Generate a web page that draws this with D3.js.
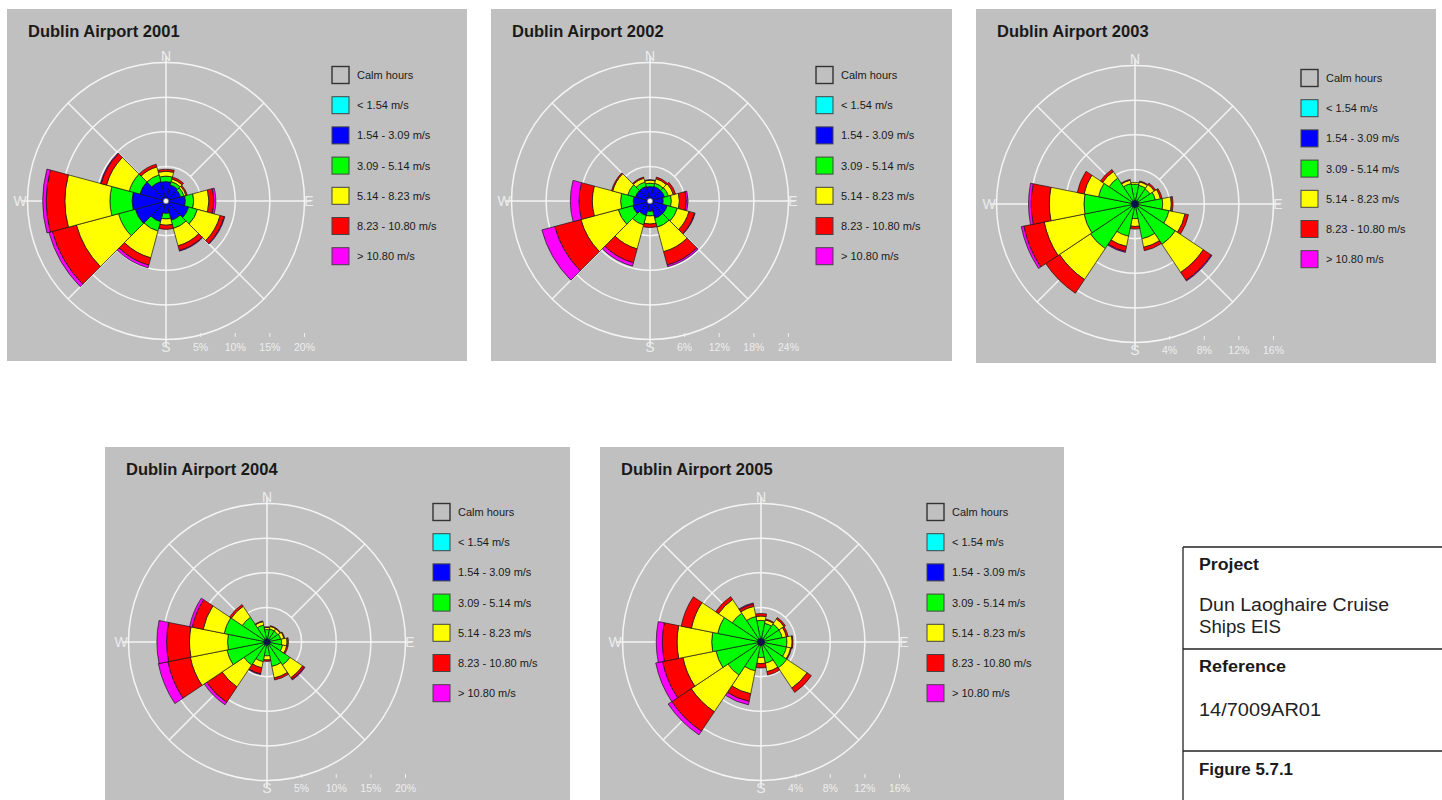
<!DOCTYPE html>
<html><head><meta charset="utf-8">
<script src="https://cdn.jsdelivr.net/npm/d3@7/dist/d3.min.js"></script>
<style>
body{margin:0;background:#fff;}
svg{display:block;font-family:"Liberation Sans",Arial,sans-serif;}
</style>
</head><body>
<svg id="chart" width="1442" height="800"></svg>
<script>
// ---------------- DATA ----------------
const speedClasses = ["Calm hours", "< 1.54 m/s", "1.54 - 3.09 m/s", "3.09 - 5.14 m/s", "5.14 - 8.23 m/s", "8.23 - 10.80 m/s", "> 10.80 m/s"];
const compassLabels = ["N", "E", "S", "W"];
const years = [2001, 2002, 2003, 2004, 2005];
const titles = ["Dublin Airport 2001", "Dublin Airport 2002", "Dublin Airport 2003", "Dublin Airport 2004", "Dublin Airport 2005"];

// sector bearings (degrees)
const dirs12 = [0, 30, 60, 90, 120, 150, 180, 210, 240, 270, 300, 330];
const dirs16 = [0, 22.5, 45, 67.5, 90, 112.5, 135, 157.5, 180, 202.5, 225, 247.5, 270, 292.5, 315, 337.5];

// ring tick values (%)
const ticks2001 = [5, 10, 15, 20];
const ticks2002 = [6, 12, 18, 24];
const ticks2003 = [4, 8, 12, 16];
const ticks2004 = [5, 10, 15, 20];
const ticks2005 = [4, 8, 12, 16];

// frequency (%) per direction: [<1.54, 1.54-3.09, 3.09-5.14, 5.14-8.23, 8.23-10.80, >10.80]
const freq2001 = [
  [0.3, 2.5, 0.8, 0.7, 0.3, 0.0], // N
  [0.3, 2.1, 0.5, 0.4, 0.3, 0.0], // 30
  [0.3, 1.9, 0.5, 0.3, 0.2, 0.0], // 60
  [0.3, 2.5, 1.2, 2.2, 0.7, 0.3], // E
  [0.3, 3.1, 1.3, 3.4, 0.6, 0.1], // 120
  [0.3, 2.6, 1.2, 2.6, 0.7, 0.1], // 150
  [0.3, 1.5, 0.8, 0.9, 0.6, 0.0], // S
  [0.3, 2.8, 1.4, 4.0, 1.1, 0.4], // 210
  [0.3, 4.3, 2.5, 6.3, 3.6, 0.5], // 240
  [0.3, 4.6, 3.2, 6.5, 2.7, 0.5], // W
  [0.3, 3.6, 1.6, 3.4, 0.8, 0.1], // 300
  [0.3, 2.6, 1.0, 1.2, 0.4, 0.0]  // 330
];
const freq2002 = [
  [0.3, 2.2, 0.6, 0.5, 0.1, 0.0],
  [0.3, 2.3, 0.6, 0.8, 0.3, 0.0],
  [0.3, 2.3, 0.7, 0.9, 0.4, 0.0],
  [0.3, 2.0, 1.4, 1.4, 1.2, 0.3],
  [0.3, 2.8, 1.8, 2.1, 1.0, 0.1],
  [0.3, 2.8, 1.6, 4.4, 2.4, 0.3],
  [0.3, 1.5, 0.8, 1.4, 0.6, 0.0],
  [0.3, 2.3, 1.7, 4.3, 2.5, 0.6],
  [0.3, 2.8, 2.6, 6.7, 4.7, 2.3],
  [0.3, 2.6, 2.2, 4.9, 2.3, 1.5],
  [0.3, 2.3, 1.4, 2.7, 0.2, 0.0],
  [0.3, 2.3, 0.8, 0.7, 0.2, 0.0]
];
const freq2003 = [
  [0.1, 0.3, 1.9, 0.2, 0.0, 0.0], // N
  [0.1, 0.3, 1.8, 0.4, 0.1, 0.0], // NNE
  [0.1, 0.3, 1.7, 0.6, 0.2, 0.0], // NE
  [0.1, 0.3, 2.0, 0.6, 0.2, 0.0], // ENE
  [0.1, 0.3, 2.8, 1.0, 0.2, 0.0], // E
  [0.1, 0.3, 3.6, 1.9, 0.4, 0.0], // ESE
  [0.1, 0.3, 5.2, 3.9, 1.1, 0.1], // SE
  [0.1, 0.3, 3.7, 1.0, 0.4, 0.0], // SSE
  [0.1, 0.3, 1.3, 0.9, 0.3, 0.0], // S
  [0.1, 0.3, 3.4, 1.2, 0.6, 0.1], // SSW
  [0.1, 0.3, 5.8, 4.3, 1.9, 0.0], // SW
  [0.1, 0.3, 5.6, 4.7, 2.4, 0.3], // WSW
  [0.1, 0.3, 5.5, 4.0, 2.1, 0.3], // W
  [0.1, 0.3, 3.9, 1.7, 0.8, 0.0], // WNW
  [0.1, 0.3, 3.2, 0.9, 0.3, 0.0], // NW
  [0.1, 0.3, 2.0, 0.4, 0.1, 0.0]  // NNW
];
const freq2004 = [
  [0.1, 0.2, 1.5, 0.3, 0.1, 0.0],
  [0.1, 0.2, 1.6, 0.4, 0.1, 0.0],
  [0.1, 0.2, 1.6, 0.4, 0.1, 0.0],
  [0.1, 0.2, 1.7, 0.5, 0.1, 0.0],
  [0.1, 0.2, 1.8, 0.8, 0.2, 0.0],
  [0.1, 0.2, 2.0, 0.6, 0.2, 0.0],
  [0.1, 0.2, 3.7, 2.2, 0.3, 0.1],
  [0.1, 0.2, 3.3, 1.7, 0.3, 0.0],
  [0.1, 0.2, 1.7, 0.6, 0.2, 0.0],
  [0.1, 0.2, 2.6, 0.9, 0.9, 0.1],
  [0.1, 0.2, 3.7, 3.8, 2.7, 0.4],
  [0.1, 0.2, 5.6, 5.4, 3.3, 1.4],
  [0.1, 0.2, 5.4, 5.5, 3.3, 1.4],
  [0.1, 0.2, 6.0, 3.1, 1.6, 0.4],
  [0.1, 0.2, 4.0, 1.9, 0.3, 0.0],
  [0.1, 0.2, 2.2, 0.5, 0.1, 0.0]
];
const freq2005 = [
  [0.1, 0.3, 2.1, 0.5, 0.3, 0.0],
  [0.1, 0.3, 1.8, 0.4, 0.1, 0.0],
  [0.1, 0.3, 2.1, 0.7, 0.2, 0.0],
  [0.1, 0.3, 2.1, 0.5, 0.2, 0.0],
  [0.1, 0.3, 2.6, 0.6, 0.1, 0.0],
  [0.1, 0.3, 2.6, 0.5, 0.1, 0.0],
  [0.1, 0.3, 3.2, 2.8, 0.6, 0.0],
  [0.1, 0.3, 2.1, 1.0, 0.4, 0.0],
  [0.1, 0.3, 1.4, 0.7, 0.5, 0.0],
  [0.1, 0.3, 3.0, 2.7, 0.9, 0.4],
  [0.1, 0.3, 4.2, 5.1, 2.7, 0.5],
  [0.1, 0.3, 4.9, 3.9, 2.4, 0.8],
  [0.1, 0.3, 5.3, 4.0, 1.7, 0.7],
  [0.1, 0.3, 4.7, 3.1, 1.2, 0.0],
  [0.1, 0.3, 3.6, 1.9, 0.4, 0.0],
  [0.1, 0.3, 2.6, 1.2, 0.3, 0.1]
];

const infoLabels = ["Project", "Reference", "Figure 5.7.1"];
const infoValues = ["Dun Laoghaire Cruise", "Ships EIS", "14/7009AR01"];

// ---------------- STYLE / LAYOUT ----------------
const speedColors = ["#c0c0c0", "#00ffff", "#0000ff", "#00ff00", "#ffff00", "#ff0000", "#ff00ff"];
const panelBg = "#c0c0c0";
const panels = [
  {x: 7,   y: 9,   w: 460, h: 352, cx: 166,  cy: 201, dirs: dirs12, ticks: ticks2001, freq: freq2001, calmDot: true},
  {x: 491, y: 9,   w: 461, h: 352, cx: 650,  cy: 201, dirs: dirs12, ticks: ticks2002, freq: freq2002, calmDot: true},
  {x: 976, y: 9,   w: 460, h: 354, cx: 1135, cy: 204, dirs: dirs16, ticks: ticks2003, freq: freq2003, calmDot: false},
  {x: 105, y: 447, w: 465, h: 353, cx: 267,  cy: 642, dirs: dirs16, ticks: ticks2004, freq: freq2004, calmDot: false},
  {x: 600, y: 447, w: 464, h: 353, cx: 761,  cy: 642, dirs: dirs16, ticks: ticks2005, freq: freq2005, calmDot: false}
];
const outerR = 138.5;
const toRad = d => d * Math.PI / 180;

const svg = d3.select("#chart");

panels.forEach((p, pi) => {
  const g = svg.append("g");
  g.append("rect").attr("x", p.x).attr("y", p.y).attr("width", p.w).attr("height", p.h).attr("fill", panelBg);

  g.append("text").attr("x", p.x + 21).attr("y", p.y + 28)
    .attr("font-size", 16.5).attr("font-weight", "bold").attr("fill", "#1a1a1a")
    .text(titles[pi]);

  const r = d3.scaleLinear().domain([0, d3.max(p.ticks)]).range([0, outerR]);
  const rose = g.append("g").attr("transform", `translate(${p.cx},${p.cy})`);

  // grid
  const grid = rose.append("g").attr("stroke", "#f4f4f4").attr("stroke-width", 1.5).attr("fill", "none");
  grid.selectAll("circle").data(p.ticks).join("circle").attr("r", d => r(d));
  [0, 90].forEach(a => {
    grid.append("line")
      .attr("x1", -145 * Math.sin(toRad(a))).attr("y1", -145 * Math.cos(toRad(a)) * -1)
      .attr("x2", 145 * Math.sin(toRad(a))).attr("y2", -145 * Math.cos(toRad(a)));
  });
  [45, 135, 225, 315].forEach(a => {
    const r0 = r(p.ticks[0]), r1 = r(d3.max(p.ticks));
    grid.append("line")
      .attr("x1", r0 * Math.sin(toRad(a))).attr("y1", -r0 * Math.cos(toRad(a)))
      .attr("x2", r1 * Math.sin(toRad(a))).attr("y2", -r1 * Math.cos(toRad(a)));
  });

  // petals
  const nDir = p.dirs.length;
  const half = 180 / nDir;
  const bands = [];
  p.freq.forEach((row, i) => {
    let cum = 0;
    row.forEach((v, k) => {
      const a = cum; cum += v;
      if (v > 0) bands.push({dir: p.dirs[i], k: k + 1, r0: a, r1: cum});
    });
  });
  const arc = d3.arc()
    .innerRadius(d => r(d.r0)).outerRadius(d => r(d.r1))
    .startAngle(d => toRad(d.dir - half)).endAngle(d => toRad(d.dir + half));
  rose.append("g").selectAll("path").data(bands).join("path")
    .attr("d", arc).attr("fill", d => speedColors[d.k])
    .attr("stroke", "#151515").attr("stroke-width", 0.7).attr("stroke-linejoin", "round");

  if (p.calmDot) {
    rose.append("circle").attr("r", 2.6).attr("fill", "#f2f2f2").attr("stroke", "#777").attr("stroke-width", 0.6);
  } else {
    rose.append("circle").attr("r", 3.5).attr("fill", "#10104a");
  }

  // compass labels
  const labR = 146;
  const labPos = [[0, -labR + 1], [labR - 3, 0], [0, labR], [-labR, 0]];
  rose.selectAll("text.cmp").data(compassLabels).join("text").attr("class", "cmp")
    .attr("x", (d, i) => labPos[i][0]).attr("y", (d, i) => labPos[i][1])
    .attr("text-anchor", "middle").attr("dominant-baseline", "central")
    .attr("font-size", 14).attr("fill", "#ececec").text(d => d);

  // ring value ticks + labels
  rose.selectAll("line.tk").data(p.ticks).join("line").attr("class", "tk")
    .attr("x1", d => r(d)).attr("x2", d => r(d)).attr("y1", 132).attr("y2", 136)
    .attr("stroke", "#eeeeee").attr("stroke-width", 1);
  rose.selectAll("text.tl").data(p.ticks).join("text").attr("class", "tl")
    .attr("x", d => r(d)).attr("y", 150).attr("text-anchor", "middle")
    .attr("font-size", 10.5).attr("fill", "#eeeeee").text(d => d + "%");

  // legend
  const lg = rose.append("g").attr("transform", `translate(166,${pi < 3 ? -126 : -130})`);
  const rows = lg.selectAll("g").data(speedClasses).join("g")
    .attr("transform", (d, i) => `translate(0,${i * 30.2})`);
  rows.append("rect").attr("x", 0).attr("y", -8.5).attr("width", 17).attr("height", 17)
    .attr("fill", (d, i) => speedColors[i])
    .attr("stroke", (d, i) => i === 0 ? "#333" : "#444").attr("stroke-width", (d, i) => i === 0 ? 1.4 : 1);
  rows.append("text").attr("x", 25).attr("y", 4).attr("font-size", 11).attr("fill", "#1a1a1a").text(d => d);
});

// ---------------- info box ----------------
const box = svg.append("g");
const bx = 1183;
box.append("line").attr("x1", bx).attr("x2", 1442).attr("y1", 547).attr("y2", 547).attr("stroke", "#222").attr("stroke-width", 1.3);
box.append("line").attr("x1", bx).attr("x2", 1442).attr("y1", 649).attr("y2", 649).attr("stroke", "#222").attr("stroke-width", 1.3);
box.append("line").attr("x1", bx).attr("x2", 1442).attr("y1", 751).attr("y2", 751).attr("stroke", "#222").attr("stroke-width", 1.3);
box.append("line").attr("x1", bx).attr("x2", bx).attr("y1", 547).attr("y2", 800).attr("stroke", "#222").attr("stroke-width", 1.3);

const lblY = [570, 672, 775];
const lblW = [60, 87, 94];
box.selectAll("text.lbl").data(infoLabels).join("text").attr("class", "lbl")
  .attr("x", 1199).attr("y", (d, i) => lblY[i]).attr("font-size", 16).attr("font-weight", "bold")
  .attr("fill", "#1a1a1a").attr("textLength", (d, i) => lblW[i]).attr("lengthAdjust", "spacingAndGlyphs").text(d => d);
const valY = [611, 633, 716];
const valW = [190, 82, 122];
box.selectAll("text.val").data(infoValues).join("text").attr("class", "val")
  .attr("x", 1199).attr("y", (d, i) => valY[i]).attr("font-size", 17.5)
  .attr("fill", "#222").attr("textLength", (d, i) => valW[i]).attr("lengthAdjust", "spacingAndGlyphs").text(d => d);
</script>
</body></html>
